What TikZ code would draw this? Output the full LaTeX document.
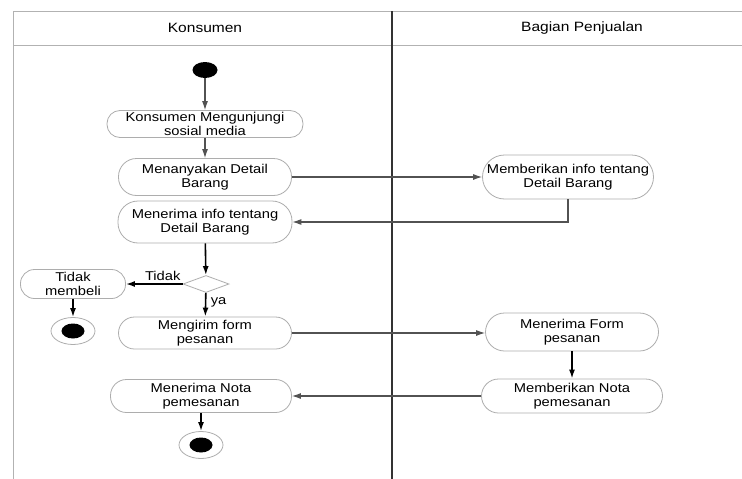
\documentclass[tikz,border=0pt]{standalone}
\usepackage{fontspec}
\setmainfont[FakeStretch=1.15]{Liberation Sans}
\usetikzlibrary{arrows.meta,shapes.geometric}

\begin{document}
\begin{tikzpicture}[x=1pt,y=-1pt,
  every node/.style={font=\fontsize{12.8}{14}\selectfont},
  head/.style={font=\fontsize{13.5}{15}\selectfont},
  act/.style={draw=black!32, line width=0.8pt, fill=white, align=center, inner sep=0pt},
  lane/.style={draw=black!30, line width=1pt},
  divider/.style={draw=black!80, line width=1.8pt},
  flowg/.style={draw=black!68, line width=1.1pt, -{Latex[length=9pt,width=6pt]}},
  flowk/.style={draw=black, line width=1.6pt, -{Latex[length=9pt,width=6pt]}},
  initial/.style={ellipse, fill=black, minimum width=25pt, minimum height=16pt, inner sep=0pt},
  finalring/.style={ellipse, draw=black!32, line width=0.8pt, minimum width=44pt, minimum height=27pt, inner sep=0pt},
  finaldot/.style={ellipse, fill=black, minimum width=23pt, minimum height=15pt, inner sep=0pt},
  decision/.style={diamond, draw=black!32, line width=0.8pt, fill=white, minimum width=46pt, minimum height=17pt, inner sep=0pt, aspect=2.7}
]
\useasboundingbox (0,0) rectangle (742,479);
\fill[white] (0,0) rectangle (742,479);

% swimlane frame
\draw[lane] (13,479) -- (13,11) -- (742,11);
\draw[lane] (13,45) -- (742,45);
\draw[divider] (392,11) -- (392,479);
\node[head] (hk) at (205,28) {Konsumen};
\node[head] (hb) at (582,28) {Bagian Penjualan};

% Konsumen lane
\node[initial] (start) at (205,70) {};
\node[act, minimum width=196pt, minimum height=27pt, rounded corners=13pt] (n1) at (205,124) {Konsumen Mengunjungi\\sosial media};
\node[act, minimum width=173pt, minimum height=37pt, rounded corners=18pt] (n2) at (205,177) {Menanyakan Detail\\Barang};
\node[act, minimum width=174pt, minimum height=42pt, rounded corners=20pt] (n3) at (205,222) {Menerima info tentang\\Detail Barang};
\node[decision] (dec) at (206,284) {};
\node[act, minimum width=105pt, minimum height=29pt, rounded corners=14pt] (tidak) at (73,284) {Tidak\\membeli};
\node[finalring] (end1) at (73,331) {};
\node[finaldot] (end1dot) at (73,331) {};
\node[act, minimum width=173pt, minimum height=32pt, rounded corners=16pt] (kirim) at (205,333) {Mengirim form\\pesanan};
\node[act, minimum width=181pt, minimum height=33pt, rounded corners=16pt] (nota) at (201,396) {Menerima Nota\\pemesanan};
\node[finalring] (end2) at (201,445) {};
\node[finaldot] (end2dot) at (201,445) {};

% Bagian Penjualan lane
\node[act, minimum width=171pt, minimum height=44pt, rounded corners=22pt] (info) at (568,177) {Memberikan info tentang\\Detail Barang};
\node[act, minimum width=173pt, minimum height=38pt, rounded corners=19pt] (terima) at (572,332) {Menerima Form\\pesanan};
\node[act, minimum width=181pt, minimum height=34pt, rounded corners=17pt] (beri) at (572,396) {Memberikan Nota\\pemesanan};

% control flow
\draw[flowg] (start) -- (n1);
\draw[flowg] (n1) -- (n2);
\draw[flowg] (n2.east) -- (n2.east -| info.west);
\draw[flowg] (info.south) |- (n3.east);
\draw[flowk] (n3) -- (dec);
\draw[flowk] (dec.west) -- node[above, pos=0.35, yshift=-1pt] {Tidak} (tidak.east);
\draw[flowk] (tidak) -- (end1);
\draw[flowk] (dec) -- node[right, pos=0.4, xshift=1pt] {ya} (kirim);
\draw[flowg] (kirim.east) -- (kirim.east -| terima.west);
\draw[flowk] (terima) -- (beri);
\draw[flowg] (beri.west) -- (beri.west -| nota.east);
\draw[flowk] (nota) -- (end2);
\end{tikzpicture}
\end{document}
